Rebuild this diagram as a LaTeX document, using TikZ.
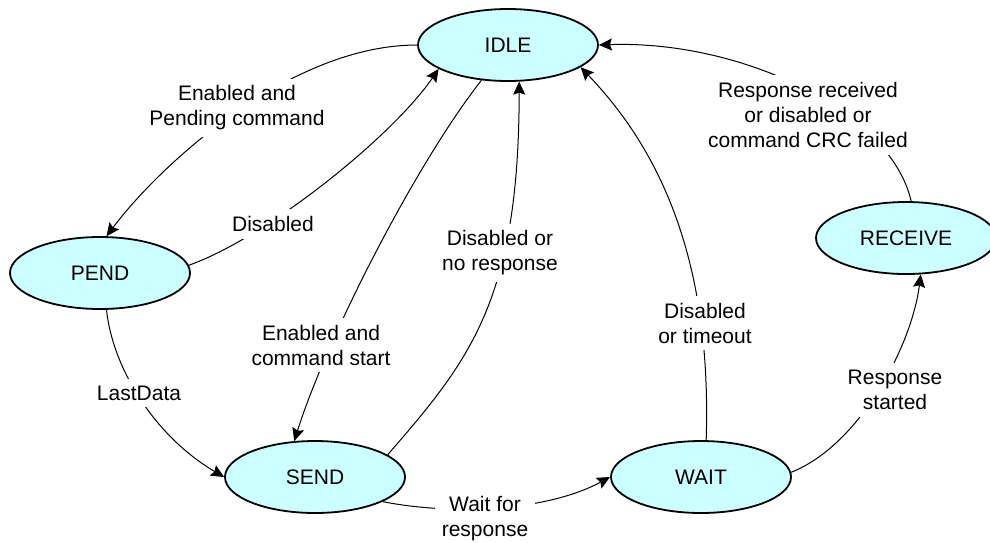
\documentclass[tikz,border=0pt]{standalone}
\usepackage{fontspec}
\setmainfont{Liberation Sans}
\usepackage{tikz}
\usetikzlibrary{arrows.meta,shapes.geometric}
\definecolor{statefill}{HTML}{CCFFFF}
\definecolor{ink}{HTML}{000000}
\tikzset{
  statebox/.style={ellipse,draw=ink,line width=0.9pt,fill=statefill,minimum width=90pt,minimum height=36pt,inner sep=0pt,font=\fontsize{10.5}{12.5}\selectfont},
  arr/.style={-{Stealth[length=6.5pt,width=6pt,inset=1pt]},line width=0.5pt,color=ink},
  lbl/.style={fill=white,align=center,inner sep=3.5pt,font=\fontsize{10.5}{12.5}\selectfont}}

\begin{document}
\begin{tikzpicture}[x=0.5pt,y=-0.5pt]
\useasboundingbox (0,0) rectangle (990,542);
% states
\node[statebox] (idle) at (508,45) {IDLE};
\node[statebox] (pend) at (100,273) {PEND};
\node[statebox] (send) at (315,477) {SEND};
\node[statebox] (wait) at (701,477) {WAIT};
\node[statebox] (receive) at (906,238) {RECEIVE};
% transitions
\draw[arr] (idle.west) .. controls (290,45) and (160,165) .. (pend.80);
\draw[arr] (pend.5) .. controls (266,238) and (392,137) .. (idle.199);
\draw[arr] (pend.-80) .. controls (113,370) and (156,437) .. (send.west);
\draw[arr] (idle.233) .. controls (415,165) and (326,340) .. (send.120);
\draw[arr] (send.17) .. controls (470,360) and (519,300) .. (idle.-73);
\draw[arr] (send.-20) .. controls (450,515) and (545,512) .. (wait.west);
\draw[arr] (wait.82) .. controls (712,260) and (660,150) .. (idle.-17);
\draw[arr] (wait.3) .. controls (860,445) and (912,345) .. (receive.-68);
\draw[arr] (receive.82) .. controls (890,110) and (740,40) .. (idle.east);
% labels
\node[lbl] (l1) at (237,108) {Enabled and\\Pending command};
\node[lbl] (l2) at (273,224) {Disabled};
\node[lbl] (l3) at (139,393) {LastData};
\node[lbl] (l4) at (321,345) {Enabled and\\command start};
\node[lbl] (l5) at (500,253) {Disabled or\\no response};
\node[lbl] (l6) at (485,519) {Wait for\\response};
\node[lbl] (l7) at (705,323) {Disabled\\or timeout};
\node[lbl] (l8) at (895,390) {Response\\started};
\node[lbl] (l9) at (808,115) {Response received\\or disabled or\\command CRC failed};
\end{tikzpicture}
\end{document}
